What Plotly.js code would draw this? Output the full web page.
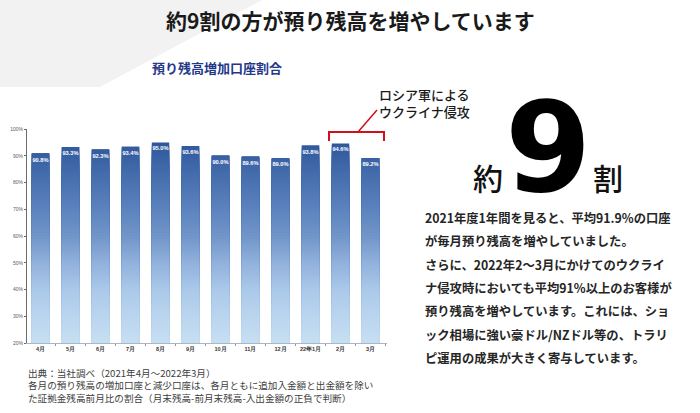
<!DOCTYPE html>
<html>
<head>
<meta charset="utf-8">
<script src="https://cdn.plot.ly/plotly-3.0.1.min.js"></script>
<style>
html,body{margin:0;padding:0;background:#fff;}
#chart{width:700px;height:413px;}
</style>
</head>
<body>
<div id="chart"></div>
<script>
// ---- data ----
const months = ['4月','5月','6月','7月','8月','9月','10月','11月','12月','22年1月','2月','3月'];
const shares = [90.8, 93.3, 92.3, 93.4, 95.0, 93.6, 90.0, 89.6, 89.0, 93.8, 94.6, 89.2];
const yTickVals = [20, 30, 40, 50, 60, 70, 80, 90, 100];
const yTickText = ['20%', '30%', '40%', '50%', '60%', '70%', '80%', '90%', '100%'];

const mainTitle = '約9割の方が預り残高を増やしています';
const subTitle = '預り残高増加口座割合';
const calloutLines = ['ロシア軍による', 'ウクライナ侵攻'];
const bodyLines = [
  '2021年度1年間を見ると、平均91.9%の口座',
  'が毎月預り残高を増やしていました。',
  'さらに、2022年2～3月にかけてのウクライ',
  'ナ侵攻時においても平均91%以上のお客様が',
  '預り残高を増やしています。これには、ショ',
  'ック相場に強い豪ドル/NZドル等の、トラリ',
  'ピ運用の成果が大きく寄与しています。'
];
const footLines = [
  '出典：当社調べ（2021年4月～2022年3月）',
  '各月の預り残高の増加口座と減少口座は、各月ともに追加入金額と出金額を除い',
  'た証拠金残高前月比の割合（月末残高-前月末残高-入出金額の正負で判断）'
];

// ---- styling ----
const gradStops = [[20,[198,222,242]],[30,[186,213,238]],[40,[170,200,233]],[50,[145,177,220]],
                   [60,[113,149,201]],[70,[92,131,190]],[80,[74,114,176]],[90,[55,96,163]],[100,[42,80,148]]];
function colorAt(v){
  for(let i=0;i<gradStops.length-1;i++){
    const [a,ca]=gradStops[i],[b,cb]=gradStops[i+1];
    if(v<=b){const t=Math.max(0,(v-a)/(b-a));
      return 'rgb('+ca.map((c,k)=>Math.round(c+(cb[k]-c)*t)).join(',')+')';}
  }
  const c=gradStops[gradStops.length-1][1];return 'rgb('+c.join(',')+')';
}

const L=27,R=387,T=129,B=343,W=700,H=413;
const px = x => (x-L)/(R-L);
const py = y => (B-y)/(B-T);

const JP = '"Noto Sans CJK JP", "Noto Sans", sans-serif';
const LAT = '"Liberation Sans", Arial, sans-serif';

const traces = [];
// top (dark) full-height bar
traces.push({type:'bar', x:months, y:shares, marker:{color:colorAt(96)}, hoverinfo:'skip', showlegend:false});
// gradient slices drawn over lower portions
for(let t=94; t>20; t-=1){
  traces.push({type:'bar', x:months, y:shares.map(v=>Math.min(v,t)),
    marker:{color:colorAt(t-0.5)}, hoverinfo:'skip', showlegend:false});
}
// label layer
traces.push({type:'bar', x:months, y:shares, marker:{color:'rgba(0,0,0,0)'},
  texttemplate:'%{y:.1f}%', textposition:'inside', insidetextanchor:'end', textangle:0,
  constraintext:'none',
  insidetextfont:{color:'#ffffff', size:5.7, family:LAT, weight:'bold'},
  hoverinfo:'skip', showlegend:false});

const annotations = [];
annotations.push({xref:'paper', yref:'paper', x:px(350), y:py(20), text:mainTitle, showarrow:false,
  xanchor:'center', yanchor:'middle', font:{family:JP, size:21, color:'#1a1a1a', weight:'bold'}});
annotations.push({xref:'paper', yref:'paper', x:px(150), y:py(67), text:subTitle, showarrow:false,
  xanchor:'left', yanchor:'middle', font:{family:JP, size:13, color:'#24378a', weight:'bold'}});
annotations.push({xref:'paper', yref:'paper', x:px(378), y:py(103), text:calloutLines.join('<br>'),
  showarrow:false, xanchor:'left', yanchor:'middle', align:'left', borderpad:0,
  font:{family:JP, size:13, color:'#1a1a1a', weight:500}});
annotations.push({xref:'paper', yref:'paper', x:px(488), y:py(177), text:'約', showarrow:false,
  xanchor:'center', yanchor:'middle', font:{family:JP, size:30, color:'#111', weight:500}});
annotations.push({xref:'paper', yref:'paper', x:px(548), y:py(148), text:'9', showarrow:false, borderpad:0,
  height:100, valign:'middle',
  xanchor:'center', yanchor:'middle', font:{family:'"DejaVu Sans", sans-serif', size:124, color:'#000', weight:'bold'}});
annotations.push({xref:'paper', yref:'paper', x:px(608), y:py(177), text:'割', showarrow:false,
  xanchor:'center', yanchor:'middle', font:{family:JP, size:30, color:'#111', weight:500}});
bodyLines.forEach((s,i)=>annotations.push({xref:'paper', yref:'paper', x:px(423), y:py(218+i*23.3), text:s,
  showarrow:false, xanchor:'left', yanchor:'middle', font:{family:JP, size:12.3, color:'#262626', weight:'bold'}}));
annotations.push({xref:'paper', yref:'paper', x:px(27), y:py(385.5), text:footLines.join('<br>'),
  showarrow:false, xanchor:'left', yanchor:'middle', align:'left', borderpad:0,
  font:{family:JP, size:9.6, color:'#404040'}});

const shapes = [
  {type:'path', xref:'paper', yref:'paper', layer:'below',
   path:`M ${px(0)} ${py(0)} L ${px(262)} ${py(0)} L ${px(100)} ${py(87)} L ${px(0)} ${py(87)} Z`,
   fillcolor:'#f2f2f2', line:{width:0}},
  // red bracket
  {type:'path', xref:'paper', yref:'paper',
   path:`M ${px(329)} ${py(141)} L ${px(329)} ${py(132)} L ${px(384)} ${py(132)} L ${px(384)} ${py(141)}`,
   line:{color:'#d0101a', width:2}},
  {type:'line', xref:'paper', yref:'paper', x0:px(358), y0:py(132), x1:px(377), y1:py(110),
   line:{color:'#d0101a', width:1.5}}
];

const layout = {
  width:W, height:H,
  margin:{l:L, r:W-R, t:T, b:H-B, pad:0},
  paper_bgcolor:'#ffffff', plot_bgcolor:'#ffffff',
  barmode:'overlay', bargap:0.42,
  showlegend:false,
  xaxis:{type:'category', range:[-0.45, 11.55], showgrid:false, zeroline:false,
    showline:true, linecolor:'#a9b6c9', linewidth:1, tickangle:0,
    ticks:'outside', tickson:'boundaries', ticklen:2, tickcolor:'#8a96a8',
    tickfont:{family:LAT, size:5.5, color:'#333', weight:'bold'}, fixedrange:true},
  yaxis:{range:[20,100], tickvals:yTickVals, ticktext:yTickText, showgrid:false, zeroline:false,
    showline:true, linecolor:'#6b6b6b', linewidth:1, ticks:'outside', ticklen:2, tickcolor:'#6b6b6b',
    tickfont:{family:LAT, size:5, color:'#595959'}, fixedrange:true},
  annotations, shapes
};

Plotly.newPlot('chart', traces, layout, {displayModeBar:false, staticPlot:true});
</script>
</body>
</html>
